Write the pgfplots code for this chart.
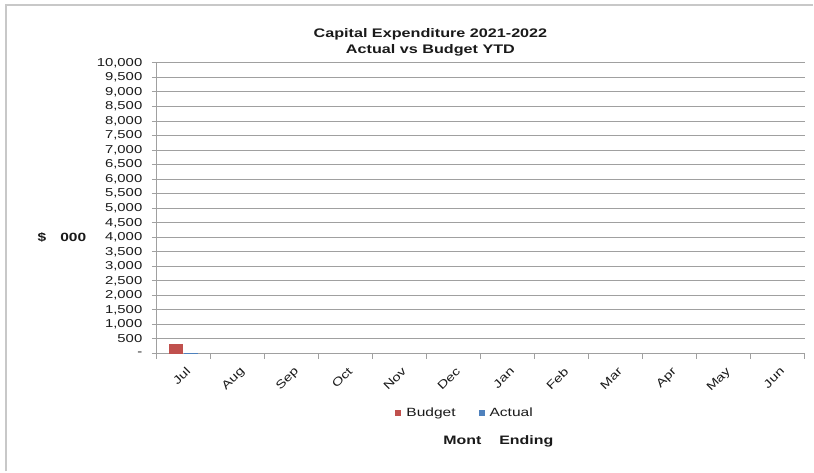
\documentclass[border=0pt]{standalone}
\usepackage{pgfplots}
\pgfplotsset{compat=1.18}
\usepackage{fontspec}
\setmainfont{Liberation Sans}[FakeStretch=1.3]
\definecolor{bud}{HTML}{C0504D}
\definecolor{act}{HTML}{4F81BD}
\definecolor{gridc}{HTML}{A0A0A0}
\definecolor{framec}{HTML}{C8C8C8}
\definecolor{txt}{HTML}{1A1A1A}
\begin{document}
\begin{tikzpicture}[x=1bp,y=1bp]
\path[fill=white] (0,0) rectangle (814,472);
\draw[line width=2.2bp, color=framec] (6,0) -- (6,467) -- (814,467);
\begin{axis}[
  at={(157bp,118bp)}, anchor=south west,
  scale only axis, width=649bp, height=291bp,
  xmin=-0.5, xmax=11.5, ymin=0, ymax=10000,
  scaled y ticks=false,
  axis x line=bottom, axis y line=left,
  axis line style={-, draw=gridc, line width=1bp},
  ymajorgrids, grid style={draw=gridc, line width=1bp},
  ytick={0,500,...,10000},
  yticklabels={-,500,{1,000},{1,500},{2,000},{2,500},{3,000},{3,500},{4,000},{4,500},{5,000},{5,500},{6,000},{6,500},{7,000},{7,500},{8,000},{8,500},{9,000},{9,500},{10,000}},
  xtick={0,...,11},
  xticklabels={Jul,Aug,Sep,Oct,Nov,Dec,Jan,Feb,Mar,Apr,May,Jun},
  minor xtick={-0.5,0.5,...,11.5},
  tick align=outside,
  major tick length=5bp, minor tick length=5bp,
  major x tick style={draw=none},
  minor x tick style={draw=gridc, line width=1bp},
  major y tick style={draw=gridc, line width=1bp},
  /pgf/number format/assume math mode=true,
  yticklabel style={font=\fontsize{11.5}{12}\selectfont, text=txt, xshift=-6bp},
  xticklabel style={font=\fontsize{11.5}{12}\selectfont, text=txt, xshift=1.5bp, yshift=-3bp, rotate=45, anchor=north east},
  legend style={at={(0.478,-0.203)}, anchor=center, draw=none, fill=none,
    font=\fontsize{12}{14}\selectfont, text=txt, legend columns=2,
    /tikz/every even column/.append style={column sep=18bp},
    nodes={inner xsep=5bp}},
  legend cell align=left,
]
\addplot[ybar, bar width=14bp, bar shift=-8bp, fill=bud, draw=none,
  legend image code/.code={\fill[bud] (0bp,-3bp) rectangle (6bp,3bp);}]
  coordinates {(0,320)};
\addlegendentry{Budget}
\addplot[ybar, bar width=14bp, bar shift=7bp, fill=act, draw=none,
  legend image code/.code={\fill[act] (0bp,-3bp) rectangle (6bp,3bp);}]
  coordinates {(0,15)};
\addlegendentry{Actual}
\end{axis}
\node[font=\bfseries\fontsize{12.5}{16}\selectfont, align=center, text=txt] at (431,430)
  {Capital Expenditure 2021-2022\\Actual vs Budget YTD};
\node[font=\bfseries\fontsize{12}{14}\selectfont, text=txt] at (62,234) {\$\hspace{14bp}000};
\node[font=\bfseries\fontsize{12.3}{14}\selectfont, text=txt] at (499,30) {Mont\hspace{18bp}Ending};
\end{tikzpicture}
\end{document}
